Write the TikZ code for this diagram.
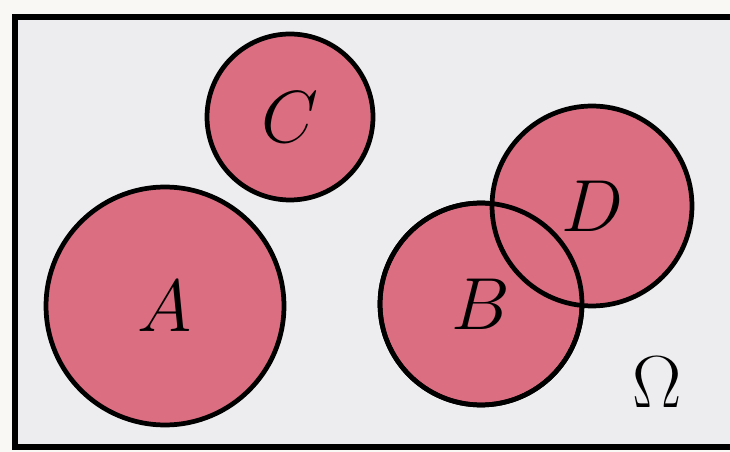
\RequirePackage{fix-cm}
\documentclass[tikz,border=0pt]{standalone}
\usetikzlibrary{positioning}

\definecolor{setpink}{RGB}{220,110,130}
\definecolor{boxgray}{RGB}{237,237,239}
\definecolor{paper}{RGB}{250,248,244}
\newcommand{\lblfont}{\fontsize{42}{46}\selectfont}

\begin{document}
\begin{tikzpicture}[
  x=0.02cm, y=-0.02cm,
  setbox/.style={draw=black, fill=setpink, circle, inner sep=0pt, line width=2.7pt, font=\lblfont},
  setline/.style={draw=black, line width=2.7pt}
]
\useasboundingbox (0,0) rectangle (730,452);
\fill[paper] (0,0) rectangle (730,452);
\begin{scope}
\clip (0,0) rectangle (730,452);
\draw[fill=boxgray, line width=3.6pt] (15,17) rectangle (760,447);
\end{scope}

% the sets
\node[setbox, minimum size=4.76cm] (A) at (165,306) {$A$};
\node[setbox, minimum size=3.32cm] (C) at (290,117) {$C$};
\node[setbox, minimum size=4.04cm] (B) at (481,304) {$B$};
\node[setbox, minimum size=4.00cm] (D) at (592,206) {$D$};
\draw[setline] (B.center) circle[radius=2.02cm];

\node[font=\lblfont] (omega) at (657,382) {$\Omega$};
\end{tikzpicture}
\end{document}
